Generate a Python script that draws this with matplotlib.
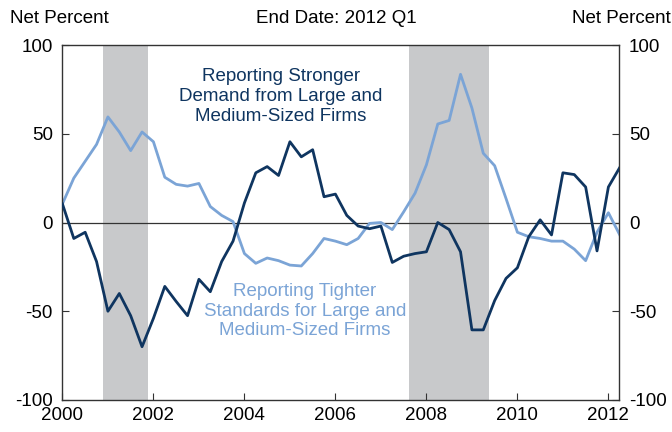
import numpy as np
import matplotlib.pyplot as plt

plt.rcParams['font.family'] = ['Liberation Sans', 'DejaVu Sans']
plt.rcParams['axes.unicode_minus'] = False

# quarterly points, 2000 through 2012 Q1
quarters = 2000 + 0.25 * np.arange(50)

demand = [10.5, -9, -5.5, -22, -50, -40, -52.5, -70, -54, -36,
          -44.5, -52.5, -32, -39, -22, -10.5, 11, 28, 31.5, 26.5,
          45.5, 37, 41, 14.5, 16, 4, -2, -3.5, -2, -22.5,
          -19, -17.5, -16.5, 0, -4, -16.5, -60.5, -60.5, -44, -31.5,
          -25.5, -8, 1.5, -7, 28, 27, 20, -16, 20, 31]

standards = [10.5, 25, 34.5, 44, 59.5, 51, 40.5, 51, 45.5, 25.5,
             21.5, 20.5, 22, 9, 4, 0.5, -17.5, -23, -20, -21.5,
             -24, -24.5, -17.5, -9, -10.5, -12.5, -9, -0.5, 0, -4,
             6, 16.5, 32.5, 55.5, 57.5, 83.5, 64.5, 39, 32, 13.5,
             -5.5, -8, -9, -10.5, -10.5, -15, -21.5, -5.5, 5.5, -7]

recessions = [(2000.89, 2001.88), (2007.62, 2009.37)]

yticks = [-100, -50, 0, 50, 100]
xticks = [2000, 2002, 2004, 2006, 2008, 2010, 2012]

dark = '#0f3560'
light = '#7ba4d6'

fig = plt.figure(figsize=(6.72, 4.32), dpi=100)
ax = fig.add_axes([0.0929, 0.0741, 0.8287, 0.8217])

for start, end in recessions:
    ax.axvspan(start, end, color='#c8c9cb', lw=0, zorder=0)

ax.axhline(0, color='#333333', lw=0.9, zorder=1)
ax.plot(quarters, standards, color=light, lw=2.0, zorder=2)
ax.plot(quarters, demand, color=dark, lw=2.0, zorder=3)

ax.set_xlim(2000, 2012.24)
ax.set_ylim(-100, 100)
ax.set_xticks(xticks)
ax.set_yticks(yticks)
ax.tick_params(direction='in', length=5, labelsize=13.5, colors='#333333',
               labelcolor='black', right=True, labelright=True)
ax.tick_params(axis='x', pad=5)
ax.tick_params(axis='y', pad=7)
for s in ax.spines.values():
    s.set_color('#333333')
    s.set_linewidth(1.0)

ax.text(2004.8, 71, 'Reporting Stronger\nDemand from Large and\nMedium-Sized Firms',
        ha='center', va='center', fontsize=13.5, color=dark, linespacing=1.2)
ax.text(2005.33, -50, 'Reporting Tighter\nStandards for Large and\nMedium-Sized Firms',
        ha='center', va='center', fontsize=13.5, color=light, linespacing=1.2)

fig.text(0.015, 0.957, 'Net Percent', ha='left', va='center', fontsize=13.5)
fig.text(0.5, 0.957, 'End Date: 2012 Q1', ha='center', va='center', fontsize=13.5)
fig.text(0.998, 0.957, 'Net Percent', ha='right', va='center', fontsize=13.5)

fig.savefig('out.png', dpi=100)
